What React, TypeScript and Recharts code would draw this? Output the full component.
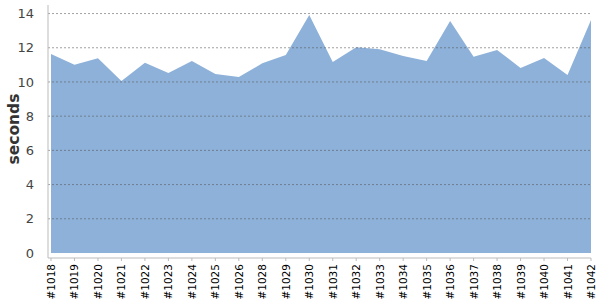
import React from "react";
import { AreaChart, Area, XAxis, YAxis, ReferenceLine } from "recharts";

const builds = ["#1018","#1019","#1020","#1021","#1022","#1023","#1024","#1025","#1026","#1028","#1029","#1030","#1031","#1032","#1033","#1034","#1035","#1036","#1037","#1038","#1039","#1040","#1041","#1042"];
const seconds = [11.64,11.0,11.38,10.06,11.13,10.53,11.23,10.47,10.29,11.09,11.58,13.92,11.17,12.03,11.91,11.52,11.23,13.57,11.48,11.87,10.82,11.4,10.41,13.63];
const yTicks = [0, 2, 4, 6, 8, 10, 12, 14];
const gridLines = [2, 4, 6, 8, 10, 12, 14];

const data = builds.map((b, i) => ({ build: b, value: seconds[i] }));

const FONT = "'DejaVu Sans', Verdana, sans-serif";

const XTick = (props: any) => {
  const { x, y, payload } = props;
  const tx = x + 4;
  const ty = y + 1;
  return (
    <text
      x={tx}
      y={ty}
      transform={`rotate(-90, ${tx}, ${ty})`}
      textAnchor="end"
      fontSize={10.5}
      fontFamily={FONT}
      fill="#000"
    >
      {payload.value}
    </text>
  );
};

export default function App() {
  return (
    <div style={{ position: "absolute", left: 0, top: 0, background: "#fff" }}>
      <AreaChart width={600} height={300} data={data} margin={{ top: 5, right: 9, bottom: 0, left: 0 }}>
        <XAxis
          dataKey="build"
          interval={0}
          height={42}
          padding={{ left: 3, right: 0 }}
          stroke="#bbb"
          tickSize={3}
          tick={<XTick />}
        />
        <YAxis
          domain={[0, 14.5]}
          ticks={yTicks}
          width={48}
          padding={{ top: 0, bottom: 5 }}
          stroke="#bbb"
          tickLine={false}
          tickMargin={8}
          tick={{ fontSize: 13, fontFamily: FONT, fill: "#444" }}
          label={{
            value: "seconds",
            angle: -90,
            position: "insideLeft",
            offset: 0,
            dx: 13,
            dy: 33,
            style: { fontSize: 15.5, fontWeight: "bold", fontFamily: FONT, fill: "#333" },
          }}
        />
        <Area
          type="linear"
          dataKey="value"
          stroke="none"
          fill="#8eb1d9"
          fillOpacity={1}
          isAnimationActive={false}
        />
        {gridLines.map((v) => (
          <ReferenceLine key={v} y={v} stroke="#555" strokeOpacity={0.55} strokeDasharray="2 2" />
        ))}
      </AreaChart>
    </div>
  );
}
